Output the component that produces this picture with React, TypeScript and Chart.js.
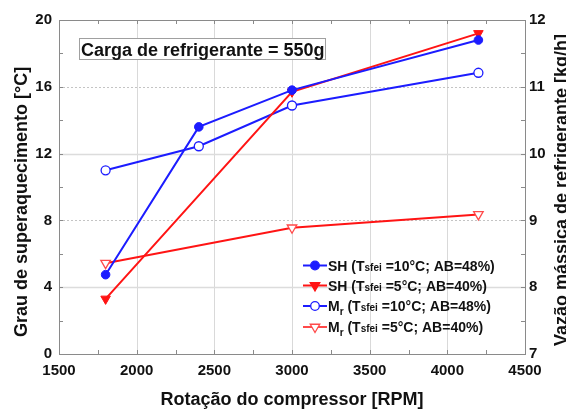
import React, { useEffect, useRef } from "react";
import { Chart, registerables } from "chart.js";

Chart.register(...registerables);

// Compressor speed [RPM]
const rpmT10 = [1800, 2400, 3000, 4200];
const rpmT5 = [1800, 3000, 4200];

// Superheat [°C]
const shT10 = [4.75, 13.6, 15.8, 18.8];
const shT5 = [3.3, 15.7, 19.2];

// Refrigerant mass flow [kg/h]
const mrT10 = [9.75, 10.11, 10.72, 11.21];
const mrT5 = [8.36, 8.89, 9.09];

// Axis ticks
const xTicks = [1500, 2000, 2500, 3000, 3500, 4000, 4500];
const leftTicks = [0, 4, 8, 12, 16, 20];
const rightTicks = [7, 8, 9, 10, 11, 12];

// Legend entries: main symbol, its subscript, and the test condition
const legendMain = ["SH", "SH", "M", "M"];
const legendSub = ["", "", "r", "r"];
const legendTemp = ["10°C", "5°C", "10°C", "5°C"];
const legendAB = ["48%", "40%", "48%", "40%"];

const chargeNote = "Carga de refrigerante = 550g";
const xTitle = "Rotação do compressor [RPM]";
const yTitle = "Grau de superaquecimento [°C]";
const y1Title = "Vazão mássica de refrigerante [kg/h]";

const FONT = "'Liberation Sans', Arial, sans-serif";
const BLUE = "#1c1cff";
const RED = "#ff1414";
const RED_LIGHT = "#ff4a4a";

type MarkerKind = "dot" | "tri" | "ring" | "openTri";
const legendMarkers: MarkerKind[] = ["dot", "tri", "ring", "openTri"];
const legendColors = [BLUE, RED, BLUE, RED_LIGHT];

function drawMarker(ctx: CanvasRenderingContext2D, kind: MarkerKind, x: number, y: number, color: string) {
  ctx.save();
  ctx.lineWidth = 1.3;
  ctx.strokeStyle = color;
  ctx.fillStyle = kind === "dot" || kind === "tri" ? color : "#ffffff";
  ctx.beginPath();
  if (kind === "dot" || kind === "ring") {
    ctx.arc(x, y, 4.3, 0, Math.PI * 2);
  } else {
    const r = 5.5;
    ctx.moveTo(x - r * 0.866, y - r * 0.5);
    ctx.lineTo(x + r * 0.866, y - r * 0.5);
    ctx.lineTo(x, y + r);
    ctx.closePath();
  }
  ctx.fill();
  ctx.stroke();
  ctx.restore();
}

const framePlugin = {
  id: "frameAndDecor",
  beforeDatasetsDraw(chart: any) {
    const { ctx, chartArea: a, scales } = chart;
    const xs = scales.x;
    const ys = scales.y;
    ctx.save();
    // grid
    ctx.lineWidth = 1;
    ctx.strokeStyle = "#d9d9d9";
    xTicks.slice(1, -1).forEach((v) => {
      const px = Math.round(xs.getPixelForValue(v)) + 0.5;
      ctx.beginPath();
      ctx.moveTo(px, a.top);
      ctx.lineTo(px, a.bottom);
      ctx.stroke();
    });
    leftTicks.slice(1, -1).forEach((v) => {
      const py = Math.round(ys.getPixelForValue(v)) + 0.5;
      const solid = v === 4 || v === 12;
      ctx.strokeStyle = solid ? "#dcdcdc" : "#c4c4c4";
      ctx.lineWidth = solid ? 1.6 : 1;
      ctx.setLineDash(solid ? [] : [2, 2]);
      ctx.beginPath();
      ctx.moveTo(a.left, py);
      ctx.lineTo(a.right, py);
      ctx.stroke();
    });
    ctx.setLineDash([]);
    // inward ticks
    ctx.strokeStyle = "#8a8a8a";
    ctx.lineWidth = 1;
    for (let v = 1750; v < 4500; v += 250) {
      const px = Math.round(xs.getPixelForValue(v)) + 0.5;
      ctx.beginPath();
      ctx.moveTo(px, a.bottom);
      ctx.lineTo(px, a.bottom - 4);
      ctx.moveTo(px, a.top);
      ctx.lineTo(px, a.top + 4);
      ctx.stroke();
    }
    for (let v = 2; v < 20; v += 2) {
      const py = Math.round(ys.getPixelForValue(v)) + 0.5;
      ctx.beginPath();
      ctx.moveTo(a.left, py);
      ctx.lineTo(a.left + 4, py);
      ctx.moveTo(a.right, py);
      ctx.lineTo(a.right - 4, py);
      ctx.stroke();
    }
    // frame
    ctx.strokeStyle = "#8a8a8a";
    ctx.strokeRect(Math.round(a.left) + 0.5, Math.round(a.top) + 0.5, Math.round(a.right - a.left), Math.round(a.bottom - a.top));
    ctx.restore();
  },
  afterDraw(chart: any) {
    const { ctx, chartArea: a } = chart;
    ctx.save();
    ctx.fillStyle = "#111";
    // axis titles
    ctx.font = `bold 18px ${FONT}`;
    ctx.textAlign = "center";
    ctx.textBaseline = "middle";
    ctx.fillText(xTitle, (a.left + a.right) / 2, 400);
    ctx.save();
    ctx.translate(22, 202);
    ctx.rotate(-Math.PI / 2);
    ctx.fillText(yTitle, 0, 0);
    ctx.restore();
    ctx.save();
    ctx.translate(562, 190);
    ctx.rotate(-Math.PI / 2);
    ctx.fillText(y1Title, 0, 0);
    ctx.restore();

    // charge note box
    ctx.fillStyle = "#ffffff";
    ctx.fillRect(79.5, 38.5, 246, 21);
    ctx.strokeStyle = "#a0a0a0";
    ctx.lineWidth = 1;
    ctx.strokeRect(79.5, 38.5, 246, 21);
    ctx.fillStyle = "#111";
    ctx.font = `bold 18px ${FONT}`;
    ctx.textAlign = "left";
    ctx.textBaseline = "alphabetic";
    ctx.fillText(chargeNote, 81, 55.5);

    // legend
    const rowsY = [265.5, 285.5, 306, 327];
    legendMain.forEach((main, i) => {
      const y = rowsY[i];
      ctx.strokeStyle = legendColors[i];
      ctx.lineWidth = 2;
      ctx.beginPath();
      ctx.moveTo(303, y);
      ctx.lineTo(327, y);
      ctx.stroke();
      drawMarker(ctx, legendMarkers[i], 315, y, legendColors[i]);
      let x = 328;
      const base = y + 5;
      ctx.fillStyle = "#111";
      const put = (s: string, size: number, dy: number) => {
        ctx.font = `bold ${size}px ${FONT}`;
        ctx.fillText(s, x, base + dy);
        x += ctx.measureText(s).width;
      };
      put(main, 14, 0);
      if (legendSub[i]) put(legendSub[i], 10, 4);
      put(" (T", 14, 0);
      put("sfei", 10, 0);
      put(` =${legendTemp[i]}; AB=${legendAB[i]})`, 14, 0);
    });
    ctx.restore();
  },
};

export default function App() {
  const ref = useRef<HTMLCanvasElement | null>(null);

  useEffect(() => {
    if (!ref.current) return;
    const tickFont = { family: FONT, size: 15, weight: "bold" as const };
    const fixTicks = (vals: number[]) => (s: any) => {
      s.ticks = vals.map((v) => ({ value: v }));
    };
    const plain = (v: any) => String(v);
    const chart = new Chart(ref.current, {
      type: "line",
      data: {
        datasets: [
          {
            label: "SH T10",
            data: rpmT10.map((x, i) => ({ x, y: shT10[i] })),
            yAxisID: "y",
            borderColor: BLUE,
            backgroundColor: BLUE,
            borderWidth: 2,
            pointStyle: "circle",
            pointRadius: 4.3,
            pointBorderWidth: 1,
          },
          {
            label: "SH T5",
            data: rpmT5.map((x, i) => ({ x, y: shT5[i] })),
            yAxisID: "y",
            borderColor: RED,
            backgroundColor: RED,
            borderWidth: 2,
            pointStyle: "triangle",
            rotation: 180,
            pointRadius: 5.5,
            pointBorderWidth: 1,
          },
          {
            label: "Mr T10",
            data: rpmT10.map((x, i) => ({ x, y: mrT10[i] })),
            yAxisID: "y1",
            borderColor: BLUE,
            backgroundColor: "#ffffff",
            borderWidth: 2,
            pointStyle: "circle",
            pointRadius: 4.5,
            pointBorderWidth: 1.3,
          },
          {
            label: "Mr T5",
            data: rpmT5.map((x, i) => ({ x, y: mrT5[i] })),
            yAxisID: "y1",
            borderColor: RED,
            pointBorderColor: RED_LIGHT,
            backgroundColor: "#ffffff",
            borderWidth: 2,
            pointStyle: "triangle",
            rotation: 180,
            pointRadius: 5.5,
            pointBorderWidth: 1.3,
          },
        ],
      },
      options: {
        animation: false,
        responsive: false,
        maintainAspectRatio: false,
        layout: { padding: { top: 20, left: 0, right: 0, bottom: 0 } },
        plugins: { legend: { display: false }, tooltip: { enabled: false } },
        scales: {
          x: {
            type: "linear",
            min: 1500,
            max: 4500,
            afterBuildTicks: fixTicks(xTicks),
            grid: { display: false, drawTicks: false },
            border: { display: false },
            ticks: { font: tickFont, color: "#111", padding: 8, maxRotation: 0, autoSkip: false, callback: plain },
            afterFit: (s: any) => {
              s.height = 57;
            },
          },
          y: {
            type: "linear",
            position: "left",
            min: 0,
            max: 20,
            afterBuildTicks: fixTicks(leftTicks),
            grid: { display: false, drawTicks: false },
            border: { display: false },
            ticks: { font: tickFont, color: "#111", padding: 7, callback: plain },
            afterFit: (s: any) => {
              s.width = 59;
            },
          },
          y1: {
            type: "linear",
            position: "right",
            min: 7,
            max: 12,
            afterBuildTicks: fixTicks(rightTicks),
            grid: { display: false, drawTicks: false },
            border: { display: false },
            ticks: { font: tickFont, color: "#111", padding: 4, callback: plain },
            afterFit: (s: any) => {
              s.width = 41;
            },
          },
        },
      },
      plugins: [framePlugin],
    });
    return () => chart.destroy();
  }, []);

  return (
    <div style={{ position: "absolute", left: 0, top: 0, width: 566, height: 411, background: "#fff" }}>
      <canvas ref={ref} width={566} height={411} style={{ display: "block" }} />
    </div>
  );
}
